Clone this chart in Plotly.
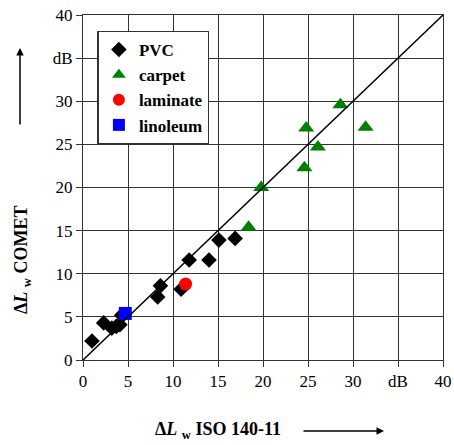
import plotly.graph_objects as go

pvc_x = [1.0, 2.3, 3.2, 3.7, 4.1, 4.3, 8.3, 8.6, 10.9, 11.8, 14.0, 15.1, 16.9]
pvc_y = [2.2, 4.3, 3.7, 3.9, 4.1, 5.2, 7.3, 8.6, 8.2, 11.6, 11.6, 13.9, 14.1]
carpet_x = [18.4, 19.8, 24.6, 24.8, 26.1, 28.6, 31.4]
carpet_y = [15.4, 20.0, 22.3, 26.9, 24.7, 29.6, 27.0]
laminate_x = [11.4]
laminate_y = [8.8]
linoleum_x = [4.7]
linoleum_y = [5.4]
tick_vals = [0, 5, 10, 15, 20, 25, 30, 35, 40]
tick_text = ["0", "5", "10", "15", "20", "25", "30", "dB", "40"]

serif = "Liberation Serif"

fig = go.Figure()
fig.add_shape(type="line", x0=0, y0=0, x1=40, y1=40, xref="x", yref="y",
              line=dict(color="black", width=1.5), layer="above")
fig.add_trace(go.Scatter(x=pvc_x, y=pvc_y, mode="markers", name="<b>PVC</b>",
                         marker=dict(symbol="diamond", size=12, color="black")))
fig.add_trace(go.Scatter(x=carpet_x, y=carpet_y, mode="markers", name="<b>carpet</b>",
                         marker=dict(symbol="triangle-up", size=14, color="#008000")))
fig.add_trace(go.Scatter(x=laminate_x, y=laminate_y, mode="markers", name="<b>laminate</b>",
                         marker=dict(symbol="circle", size=13, color="#ff0000")))
fig.add_trace(go.Scatter(x=linoleum_x, y=linoleum_y, mode="markers", name="<b>linoleum</b>",
                         marker=dict(symbol="square", size=13, color="#0000ff")))

axis_common = dict(range=[0, 40], tickvals=tick_vals, ticktext=tick_text,
                   showgrid=True, gridcolor="#333333", gridwidth=1,
                   showline=True, linecolor="#333333", linewidth=1, mirror=True,
                   ticks="outside", ticklen=6, tickcolor="#333333",
                   zeroline=False, tickfont=dict(family=serif, size=17, color="black"),
                   fixedrange=True, automargin=False)
fig.update_xaxes(**axis_common)
fig.update_yaxes(**axis_common)

fig.update_layout(
    width=454, height=445,
    margin=dict(l=83, r=11, t=15, b=85, autoexpand=False),
    paper_bgcolor="white", plot_bgcolor="white",
    showlegend=True,
    legend=dict(x=0.04, y=0.955, xanchor="left", yanchor="top",
                bgcolor="white", bordercolor="#333333", borderwidth=1.5,
                font=dict(family=serif, size=17, color="black"),
                itemsizing="constant", tracegroupgap=0),
    font=dict(family=serif),
)


def px_to_paper_x(px):
    return (px - 83) / 360.0


def px_to_paper_y(py):
    return (360 - py) / 345.0


fig.add_annotation(text="<b>Δ<i>L</i> <sub>w</sub> ISO 140-11</b>", xref="paper", yref="paper",
                   x=px_to_paper_x(218), y=px_to_paper_y(430), xanchor="center", yanchor="middle",
                   showarrow=False, font=dict(family=serif, size=18, color="black"))
fig.add_annotation(text="<b>Δ<i>L</i> <sub>w</sub> COMET</b>", xref="paper", yref="paper",
                   x=px_to_paper_x(22), y=px_to_paper_y(260), xanchor="center", yanchor="middle",
                   textangle=-90,
                   showarrow=False, font=dict(family=serif, size=18, color="black"))

fig.add_annotation(x=px_to_paper_x(384), y=px_to_paper_y(431), xref="paper", yref="paper",
                   ax=-82, ay=0, axref="pixel", ayref="pixel",
                   text="", showarrow=True, arrowhead=2, arrowsize=1, arrowwidth=1.5,
                   arrowcolor="black")
fig.add_annotation(x=px_to_paper_x(20), y=px_to_paper_y(48), xref="paper", yref="paper",
                   ax=0, ay=78, axref="pixel", ayref="pixel",
                   text="", showarrow=True, arrowhead=2, arrowsize=1, arrowwidth=1.5,
                   arrowcolor="black")

fig.write_html("out.html", config={"displayModeBar": False},
               post_script="document.body.style.margin='0';document.body.style.padding='0';")
